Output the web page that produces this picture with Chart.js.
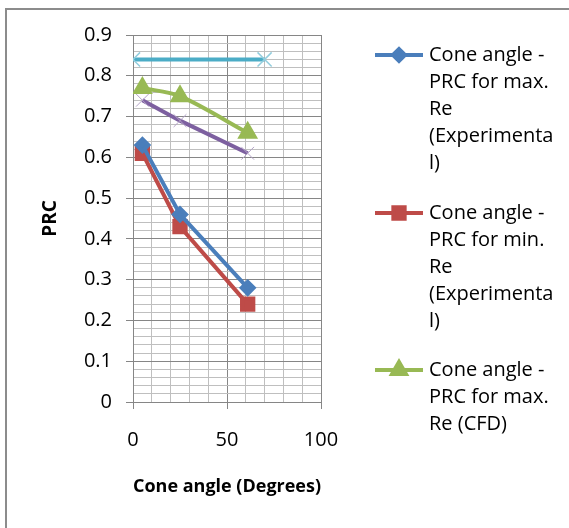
<!DOCTYPE html>
<html>
<head>
    <title>Cone angle - PRC</title>
    <script src="https://cdn.jsdelivr.net/npm/chart.js"></script>
    <style>
        body { margin: 0; background: #fff; }
    </style>
</head>
<body>
    <canvas id="prcChart" width="569" height="528"></canvas>

    <script>
        // values
        const maxReExpX = [5, 25, 61];
        const maxReExpY = [0.63, 0.46, 0.28];
        const minReExpX = [5, 25, 61];
        const minReExpY = [0.61, 0.43, 0.24];
        const maxReCfdX = [5, 25, 61];
        const maxReCfdY = [0.77, 0.75, 0.66];
        const minReCfdX = [5, 25, 61];
        const minReCfdY = [0.74, 0.69, 0.61];
        const refLineX = [0, 70];
        const refLineY = [0.84, 0.84];

        const legendLines = [
            ['Cone angle -', 'PRC for max.', 'Re', '(Experimenta', 'l)'],
            ['Cone angle -', 'PRC for min.', 'Re', '(Experimenta', 'l)'],
            ['Cone angle -', 'PRC for max.', 'Re (CFD)']
        ];

        const toPoints = (xs, ys) => xs.map((x, i) => ({ x: x, y: ys[i] }));
        const isMajorY = v => Math.abs(v * 10 - Math.round(v * 10)) < 1e-6;
        const isMajorX = v => Math.abs(v % 50) < 1e-6;
        const font = 'Open Sans';

        // white background, outer frame and the side legend
        const decor = {
            id: 'decor',
            beforeDraw(chart) {
                const ctx = chart.ctx;
                ctx.save();
                ctx.fillStyle = '#fff';
                ctx.fillRect(0, 0, chart.width, chart.height);
                ctx.strokeStyle = '#8c8c8c';
                ctx.lineWidth = 2;
                ctx.strokeRect(6, 9, 700, 700);
                ctx.restore();
            },
            afterDraw(chart) {
                const ctx = chart.ctx;
                const starts = [55, 213, 370];
                ctx.save();
                ctx.font = '20px "' + font + '"';
                ctx.textBaseline = 'middle';
                ctx.fillStyle = '#000';
                legendLines.forEach((lines, i) => {
                    const ds = chart.data.datasets[i];
                    const y0 = starts[i];
                    ctx.strokeStyle = ds.borderColor;
                    ctx.lineWidth = 4;
                    ctx.beginPath();
                    ctx.moveTo(375, y0);
                    ctx.lineTo(423, y0);
                    ctx.stroke();
                    ctx.fillStyle = ds.pointBackgroundColor;
                    ctx.strokeStyle = ds.pointBorderColor;
                    Chart.helpers.drawPoint(ctx, {
                        pointStyle: ds.pointStyle,
                        radius: ds.pointRadius,
                        rotation: 0,
                        borderWidth: 1
                    }, 399, y0);
                    ctx.fillStyle = '#000';
                    lines.forEach((t, j) => ctx.fillText(t, 429, y0 + j * 27));
                });
                ctx.restore();
            }
        };

        const ctx = document.getElementById('prcChart').getContext('2d');
        new Chart(ctx, {
            type: 'scatter',
            data: {
                datasets: [{
                    label: 'Cone angle - PRC for max. Re (Experimental)',
                    data: toPoints(maxReExpX, maxReExpY),
                    borderColor: '#4a7ebb',
                    pointBackgroundColor: '#4a7ebb',
                    pointBorderColor: '#4a7ebb',
                    pointStyle: 'rectRot',
                    pointRadius: 6,
                    borderWidth: 4,
                    showLine: true
                }, {
                    label: 'Cone angle - PRC for min. Re (Experimental)',
                    data: toPoints(minReExpX, minReExpY),
                    borderColor: '#be4b48',
                    pointBackgroundColor: '#be4b48',
                    pointBorderColor: '#be4b48',
                    pointStyle: 'rect',
                    pointRadius: 8,
                    borderWidth: 4,
                    showLine: true
                }, {
                    label: 'Cone angle - PRC for max. Re (CFD)',
                    data: toPoints(maxReCfdX, maxReCfdY),
                    borderColor: '#98b954',
                    pointBackgroundColor: '#98b954',
                    pointBorderColor: '#98b954',
                    pointStyle: 'triangle',
                    pointRadius: 8,
                    borderWidth: 4,
                    tension: 0.3,
                    showLine: true
                }, {
                    label: 'Cone angle - PRC for min. Re (CFD)',
                    data: toPoints(minReCfdX, minReCfdY),
                    borderColor: '#7d60a0',
                    pointBackgroundColor: '#b3a2c7',
                    pointBorderColor: '#b3a2c7',
                    pointStyle: 'crossRot',
                    pointRadius: 9,
                    pointBorderWidth: 1,
                    borderWidth: 4,
                    showLine: true
                }, {
                    label: 'Reference',
                    data: toPoints(refLineX, refLineY),
                    borderColor: '#4bacc6',
                    pointBackgroundColor: '#93cddd',
                    pointBorderColor: '#93cddd',
                    pointStyle: 'crossRot',
                    pointRadius: 10,
                    pointBorderWidth: 1.5,
                    borderWidth: 4,
                    showLine: true
                }]
            },
            options: {
                responsive: false,
                animation: false,
                layout: { padding: { left: 0, top: 35, right: 248, bottom: 28 } },
                plugins: {
                    legend: { display: false },
                    tooltip: { enabled: false }
                },
                scales: {
                    x: {
                        type: 'linear',
                        min: 0,
                        max: 100,
                        afterFit: s => { s.height = 98; },
                        border: { color: '#868686', width: 1 },
                        grid: {
                            color: c => isMajorX(c.tick.value) ? '#868686' : '#bfbfbf',
                            tickColor: c => isMajorX(c.tick.value) ? '#868686' : 'rgba(0,0,0,0)',
                            tickLength: 7
                        },
                        ticks: {
                            stepSize: 10,
                            autoSkip: false,
                            maxRotation: 0,
                            padding: 19,
                            color: '#000',
                            font: { family: font, size: 20 },
                            callback: v => isMajorX(v) ? String(v) : ''
                        },
                        title: {
                            display: true,
                            text: 'Cone angle (Degrees)',
                            color: '#000',
                            font: { family: font, size: 18, weight: 'bold' },
                            padding: { top: 0, bottom: 2 }
                        }
                    },
                    y: {
                        min: 0,
                        max: 0.9,
                        afterFit: s => { s.width = 133; },
                        border: { color: '#868686', width: 1 },
                        grid: {
                            color: c => isMajorY(c.tick.value) ? '#868686' : '#bfbfbf',
                            tickColor: c => isMajorY(c.tick.value) ? '#868686' : 'rgba(0,0,0,0)',
                            tickLength: 7
                        },
                        ticks: {
                            stepSize: 0.02,
                            autoSkip: false,
                            padding: 14,
                            color: '#000',
                            font: { family: font, size: 20 },
                            callback: v => isMajorY(v) ? (v === 0 ? '0' : v.toFixed(1)) : ''
                        },
                        title: {
                            display: true,
                            text: 'PRC',
                            color: '#000',
                            font: { family: font, size: 19, weight: 'bold' },
                            padding: { top: 39, bottom: 0 }
                        }
                    }
                }
            },
            plugins: [decor]
        });
    </script>
</body>
</html>
